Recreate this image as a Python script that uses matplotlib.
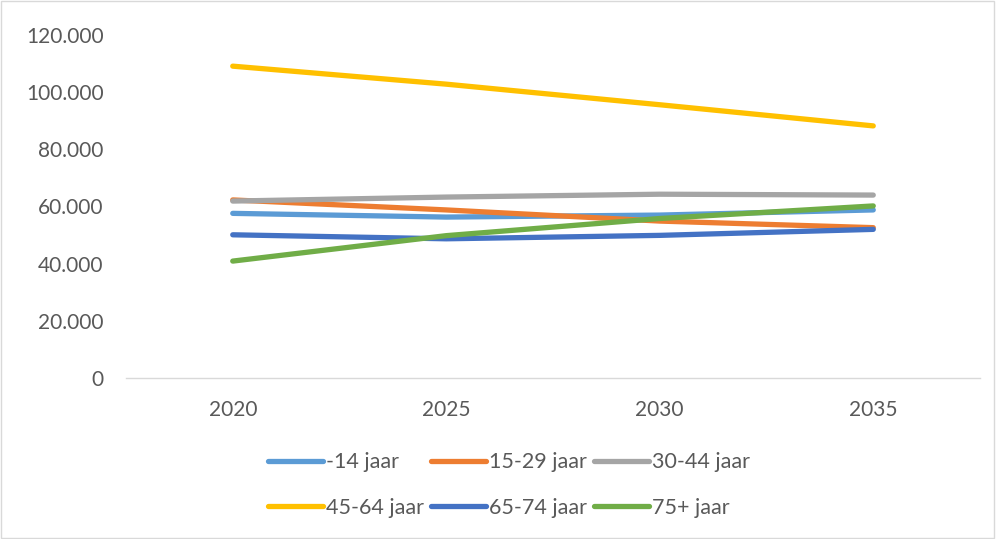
import matplotlib
matplotlib.use("Agg")
import matplotlib.pyplot as plt
from matplotlib.ticker import FuncFormatter
from matplotlib.patches import Rectangle

years = ["2020", "2025", "2030", "2035"]
labels = ["-14 jaar", "15-29 jaar", "30-44 jaar", "45-64 jaar", "65-74 jaar", "75+ jaar"]
s_014 = [57600, 56300, 57000, 58800]
s_1529 = [62300, 58800, 54900, 52600]
s_3044 = [61900, 63300, 64300, 64000]
s_4564 = [109100, 102800, 95600, 88200]
s_6574 = [50100, 48700, 49900, 52000]
s_75p = [40900, 49800, 55800, 60200]
series = [s_014, s_1529, s_3044, s_4564, s_6574, s_75p]
colors = ["#5B9BD5", "#ED7D31", "#A5A5A5", "#FFC000", "#4472C4", "#70AD47"]
yticks = [0, 20000, 40000, 60000, 80000, 100000, 120000]

plt.rcParams['font.family'] = ['Lato', 'DejaVu Sans']
fig = plt.figure(figsize=(9.96, 5.39), dpi=100)
ax = fig.add_axes([126/996, (539-378)/539, (980-126)/996, (378-35)/539])

x = list(range(len(years)))
handles = []
for vals, lab, col in zip(series, labels, colors):
    h, = ax.plot(x, vals, color=col, lw=3.8, solid_capstyle='round', label=lab)
    handles.append(h)

ax.set_xlim(-0.5, len(years) - 0.5)
ax.set_ylim(0, 120000)
ax.set_xticks(x)
ax.set_xticklabels(years)
ax.set_yticks(yticks)
ax.yaxis.set_major_formatter(FuncFormatter(lambda v, p: f"{int(v):,}".replace(",", ".")))
for s in ["top", "right", "left"]:
    ax.spines[s].set_visible(False)
ax.spines["bottom"].set_color("#D9D9D9")
ax.spines["bottom"].set_linewidth(1)
ax.tick_params(axis="both", length=0, labelsize=15, labelcolor="#595959")
ax.tick_params(axis="y", pad=16)
ax.tick_params(axis="x", pad=16)

order = [0, 3, 1, 4, 2, 5]
leg = fig.legend([handles[i] for i in order], [labels[i] for i in order],
                 ncol=3, loc="center", bbox_to_anchor=(0.511, 0.1),
                 frameon=False, fontsize=15.5, handlelength=2.55, handletextpad=0.15,
                 columnspacing=0.33, labelspacing=1.2)
for t in leg.get_texts():
    t.set_color("#595959")

fig.patches.append(Rectangle((0.001, 0.001), 0.997, 0.997, transform=fig.transFigure,
                             fill=False, edgecolor="#D9D9D9", lw=1))

fig.savefig("out.png", dpi=100)
